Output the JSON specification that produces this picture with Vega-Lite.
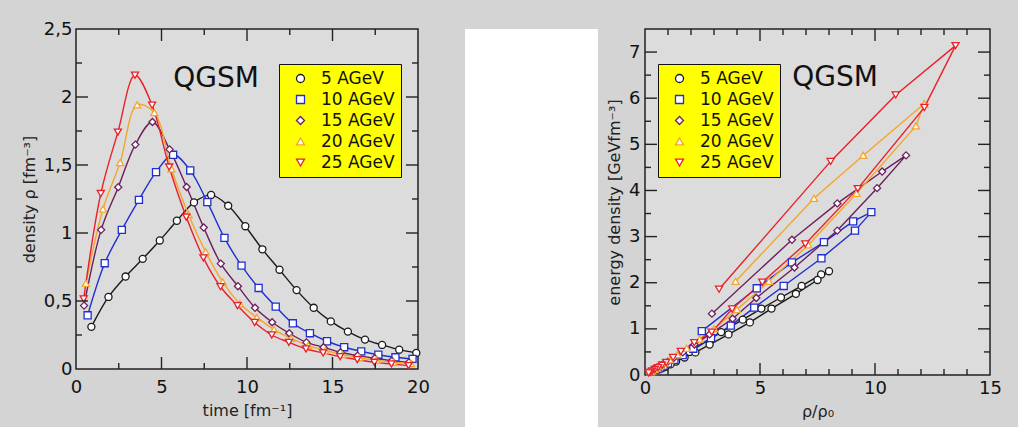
{
  "$schema": "https://vega.github.io/schema/vega-lite/v6.json",
  "background": "#d4d4d4",
  "padding": {"left": 20, "top": 19, "right": 28, "bottom": 0},
  "bounds": "flush",
  "spacing": 47,
  "datasets": {
    "d": [
      {"E":"5 AGeV","k":0,"t":0.9,"rho":0.31,"ratio":1.94,"eps":0.5},
      {"E":"5 AGeV","k":1,"t":1.9,"rho":0.53,"ratio":3.31,"eps":0.93},
      {"E":"5 AGeV","k":2,"t":2.9,"rho":0.68,"ratio":4.25,"eps":1.2},
      {"E":"5 AGeV","k":3,"t":3.9,"rho":0.81,"ratio":5.06,"eps":1.44},
      {"E":"5 AGeV","k":4,"t":4.9,"rho":0.945,"ratio":5.91,"eps":1.68},
      {"E":"5 AGeV","k":5,"t":5.9,"rho":1.09,"ratio":6.81,"eps":1.93},
      {"E":"5 AGeV","k":6,"t":6.9,"rho":1.225,"ratio":7.66,"eps":2.18},
      {"E":"5 AGeV","k":7,"t":7.9,"rho":1.28,"ratio":8.0,"eps":2.25},
      {"E":"5 AGeV","k":8,"t":8.9,"rho":1.2,"ratio":7.5,"eps":2.06},
      {"E":"5 AGeV","k":9,"t":9.9,"rho":1.05,"ratio":6.56,"eps":1.76},
      {"E":"5 AGeV","k":10,"t":10.9,"rho":0.88,"ratio":5.5,"eps":1.44},
      {"E":"5 AGeV","k":11,"t":11.9,"rho":0.73,"ratio":4.56,"eps":1.14},
      {"E":"5 AGeV","k":12,"t":12.9,"rho":0.58,"ratio":3.63,"eps":0.88},
      {"E":"5 AGeV","k":13,"t":13.9,"rho":0.45,"ratio":2.81,"eps":0.66},
      {"E":"5 AGeV","k":14,"t":14.9,"rho":0.35,"ratio":2.19,"eps":0.49},
      {"E":"5 AGeV","k":15,"t":15.9,"rho":0.275,"ratio":1.72,"eps":0.38},
      {"E":"5 AGeV","k":16,"t":16.9,"rho":0.216,"ratio":1.35,"eps":0.29},
      {"E":"5 AGeV","k":17,"t":17.9,"rho":0.177,"ratio":1.11,"eps":0.23},
      {"E":"5 AGeV","k":18,"t":18.9,"rho":0.142,"ratio":0.89,"eps":0.18},
      {"E":"5 AGeV","k":19,"t":19.9,"rho":0.118,"ratio":0.74,"eps":0.145},
      {"E":"10 AGeV","k":0,"t":0.68,"rho":0.395,"ratio":2.47,"eps":0.95},
      {"E":"10 AGeV","k":1,"t":1.68,"rho":0.778,"ratio":4.86,"eps":1.88},
      {"E":"10 AGeV","k":2,"t":2.68,"rho":1.023,"ratio":6.39,"eps":2.44},
      {"E":"10 AGeV","k":3,"t":3.68,"rho":1.244,"ratio":7.78,"eps":2.88},
      {"E":"10 AGeV","k":4,"t":4.68,"rho":1.448,"ratio":9.05,"eps":3.33},
      {"E":"10 AGeV","k":5,"t":5.68,"rho":1.575,"ratio":9.84,"eps":3.53},
      {"E":"10 AGeV","k":6,"t":6.68,"rho":1.46,"ratio":9.13,"eps":3.13},
      {"E":"10 AGeV","k":7,"t":7.68,"rho":1.227,"ratio":7.67,"eps":2.53},
      {"E":"10 AGeV","k":8,"t":8.68,"rho":0.964,"ratio":6.03,"eps":1.93},
      {"E":"10 AGeV","k":9,"t":9.68,"rho":0.76,"ratio":4.75,"eps":1.46},
      {"E":"10 AGeV","k":10,"t":10.68,"rho":0.596,"ratio":3.73,"eps":1.07},
      {"E":"10 AGeV","k":11,"t":11.68,"rho":0.459,"ratio":2.87,"eps":0.8},
      {"E":"10 AGeV","k":12,"t":12.68,"rho":0.336,"ratio":2.1,"eps":0.57},
      {"E":"10 AGeV","k":13,"t":13.68,"rho":0.263,"ratio":1.64,"eps":0.43},
      {"E":"10 AGeV","k":14,"t":14.68,"rho":0.204,"ratio":1.28,"eps":0.33},
      {"E":"10 AGeV","k":15,"t":15.68,"rho":0.16,"ratio":1.0,"eps":0.25},
      {"E":"10 AGeV","k":16,"t":16.68,"rho":0.13,"ratio":0.81,"eps":0.2},
      {"E":"10 AGeV","k":17,"t":17.68,"rho":0.105,"ratio":0.66,"eps":0.16},
      {"E":"10 AGeV","k":18,"t":18.68,"rho":0.086,"ratio":0.54,"eps":0.13},
      {"E":"10 AGeV","k":19,"t":19.68,"rho":0.074,"ratio":0.46,"eps":0.11},
      {"E":"15 AGeV","k":0,"t":0.47,"rho":0.466,"ratio":2.91,"eps":1.33},
      {"E":"15 AGeV","k":1,"t":1.47,"rho":1.023,"ratio":6.39,"eps":2.93},
      {"E":"15 AGeV","k":2,"t":2.47,"rho":1.337,"ratio":8.36,"eps":3.72},
      {"E":"15 AGeV","k":3,"t":3.47,"rho":1.65,"ratio":10.31,"eps":4.41},
      {"E":"15 AGeV","k":4,"t":4.47,"rho":1.816,"ratio":11.35,"eps":4.76},
      {"E":"15 AGeV","k":5,"t":5.47,"rho":1.615,"ratio":10.09,"eps":4.05},
      {"E":"15 AGeV","k":6,"t":6.47,"rho":1.338,"ratio":8.36,"eps":3.13},
      {"E":"15 AGeV","k":7,"t":7.47,"rho":1.04,"ratio":6.5,"eps":2.33},
      {"E":"15 AGeV","k":8,"t":8.47,"rho":0.775,"ratio":4.84,"eps":1.67},
      {"E":"15 AGeV","k":9,"t":9.47,"rho":0.609,"ratio":3.81,"eps":1.22},
      {"E":"15 AGeV","k":10,"t":10.47,"rho":0.45,"ratio":2.81,"eps":0.88},
      {"E":"15 AGeV","k":11,"t":11.47,"rho":0.344,"ratio":2.15,"eps":0.66},
      {"E":"15 AGeV","k":12,"t":12.47,"rho":0.263,"ratio":1.64,"eps":0.49},
      {"E":"15 AGeV","k":13,"t":13.47,"rho":0.196,"ratio":1.23,"eps":0.36},
      {"E":"15 AGeV","k":14,"t":14.47,"rho":0.16,"ratio":1.0,"eps":0.29},
      {"E":"15 AGeV","k":15,"t":15.47,"rho":0.123,"ratio":0.77,"eps":0.22},
      {"E":"15 AGeV","k":16,"t":16.47,"rho":0.098,"ratio":0.61,"eps":0.17},
      {"E":"15 AGeV","k":17,"t":17.47,"rho":0.079,"ratio":0.49,"eps":0.14},
      {"E":"15 AGeV","k":18,"t":18.47,"rho":0.061,"ratio":0.38,"eps":0.11},
      {"E":"15 AGeV","k":19,"t":19.47,"rho":0.049,"ratio":0.31,"eps":0.09},
      {"E":"20 AGeV","k":0,"t":0.58,"rho":0.63,"ratio":3.94,"eps":2.03},
      {"E":"20 AGeV","k":1,"t":1.58,"rho":1.176,"ratio":7.35,"eps":3.83},
      {"E":"20 AGeV","k":2,"t":2.58,"rho":1.518,"ratio":9.49,"eps":4.76},
      {"E":"20 AGeV","k":3,"t":3.58,"rho":1.942,"ratio":12.14,"eps":5.88},
      {"E":"20 AGeV","k":4,"t":4.58,"rho":1.885,"ratio":11.78,"eps":5.4},
      {"E":"20 AGeV","k":5,"t":5.58,"rho":1.472,"ratio":9.2,"eps":3.94},
      {"E":"20 AGeV","k":6,"t":6.58,"rho":1.136,"ratio":7.1,"eps":2.82},
      {"E":"20 AGeV","k":7,"t":7.58,"rho":0.862,"ratio":5.39,"eps":2.03},
      {"E":"20 AGeV","k":8,"t":8.58,"rho":0.64,"ratio":4.0,"eps":1.42},
      {"E":"20 AGeV","k":9,"t":9.58,"rho":0.48,"ratio":3.0,"eps":1.0},
      {"E":"20 AGeV","k":10,"t":10.58,"rho":0.379,"ratio":2.37,"eps":0.78},
      {"E":"20 AGeV","k":11,"t":11.58,"rho":0.29,"ratio":1.81,"eps":0.58},
      {"E":"20 AGeV","k":12,"t":12.58,"rho":0.225,"ratio":1.41,"eps":0.44},
      {"E":"20 AGeV","k":13,"t":13.58,"rho":0.172,"ratio":1.08,"eps":0.33},
      {"E":"20 AGeV","k":14,"t":14.58,"rho":0.137,"ratio":0.86,"eps":0.26},
      {"E":"20 AGeV","k":15,"t":15.58,"rho":0.106,"ratio":0.66,"eps":0.2},
      {"E":"20 AGeV","k":16,"t":16.58,"rho":0.083,"ratio":0.52,"eps":0.15},
      {"E":"20 AGeV","k":17,"t":17.58,"rho":0.065,"ratio":0.41,"eps":0.12},
      {"E":"20 AGeV","k":18,"t":18.58,"rho":0.05,"ratio":0.31,"eps":0.09},
      {"E":"20 AGeV","k":19,"t":19.58,"rho":0.04,"ratio":0.25,"eps":0.07},
      {"E":"25 AGeV","k":0,"t":0.45,"rho":0.515,"ratio":3.22,"eps":1.86},
      {"E":"25 AGeV","k":1,"t":1.45,"rho":1.29,"ratio":8.07,"eps":4.63},
      {"E":"25 AGeV","k":2,"t":2.45,"rho":1.742,"ratio":10.9,"eps":6.07},
      {"E":"25 AGeV","k":3,"t":3.45,"rho":2.16,"ratio":13.5,"eps":7.14},
      {"E":"25 AGeV","k":4,"t":4.45,"rho":1.94,"ratio":12.15,"eps":5.8},
      {"E":"25 AGeV","k":5,"t":5.45,"rho":1.485,"ratio":9.25,"eps":4.04},
      {"E":"25 AGeV","k":6,"t":6.45,"rho":1.117,"ratio":6.97,"eps":2.84},
      {"E":"25 AGeV","k":7,"t":7.45,"rho":0.817,"ratio":5.1,"eps":2.01},
      {"E":"25 AGeV","k":8,"t":8.45,"rho":0.605,"ratio":3.79,"eps":1.43},
      {"E":"25 AGeV","k":9,"t":9.45,"rho":0.465,"ratio":2.9,"eps":0.93},
      {"E":"25 AGeV","k":10,"t":10.45,"rho":0.342,"ratio":2.14,"eps":0.7},
      {"E":"25 AGeV","k":11,"t":11.45,"rho":0.25,"ratio":1.56,"eps":0.51},
      {"E":"25 AGeV","k":12,"t":12.45,"rho":0.196,"ratio":1.22,"eps":0.38},
      {"E":"25 AGeV","k":13,"t":13.45,"rho":0.147,"ratio":0.92,"eps":0.27},
      {"E":"25 AGeV","k":14,"t":14.45,"rho":0.118,"ratio":0.74,"eps":0.21},
      {"E":"25 AGeV","k":15,"t":15.45,"rho":0.091,"ratio":0.57,"eps":0.16},
      {"E":"25 AGeV","k":16,"t":16.45,"rho":0.069,"ratio":0.43,"eps":0.12},
      {"E":"25 AGeV","k":17,"t":17.45,"rho":0.049,"ratio":0.31,"eps":0.085},
      {"E":"25 AGeV","k":18,"t":18.45,"rho":0.037,"ratio":0.23,"eps":0.063},
      {"E":"25 AGeV","k":19,"t":19.45,"rho":0.025,"ratio":0.16,"eps":0.045}
    ],
    "xtL": [{"v": 2.5}, {"v": 5}, {"v": 7.5}, {"v": 10}, {"v": 12.5}, {"v": 15}, {"v": 17.5}],
    "ytL": [{"v": 0.25}, {"v": 0.5}, {"v": 0.75}, {"v": 1}, {"v": 1.25}, {"v": 1.5}, {"v": 1.75}, {"v": 2}, {"v": 2.25}],
    "xtR": [{"v": 1}, {"v": 2}, {"v": 3}, {"v": 4}, {"v": 5}, {"v": 6}, {"v": 7}, {"v": 8}, {"v": 9}, {"v": 10}, {"v": 11}, {"v": 12}, {"v": 13}, {"v": 14}],
    "ytR": [{"v": 0.5}, {"v": 1}, {"v": 1.5}, {"v": 2}, {"v": 2.5}, {"v": 3}, {"v": 3.5}, {"v": 4}, {"v": 4.5}, {"v": 5}, {"v": 5.5}, {"v": 6}, {"v": 6.5}, {"v": 7}]
  },
  "hconcat": [
    {
      "width": 342,
      "height": 340,
      "layer": [
        {
          "data": {"name": "d"},
          "mark": {"type": "line", "strokeWidth": 1.4, "interpolate": "catmull-rom"},
          "encoding": {
            "x": {"field": "t", "type": "quantitative", "scale": {"domain": [0, 20], "nice": false},
                  "axis": {"orient": "bottom", "values": [0, 5, 10, 15, 20], "ticks": false, "labelPadding": 9, "title": "time [fm⁻¹]", "titlePadding": 6}},
            "y": {"field": "rho", "type": "quantitative", "scale": {"domain": [0, 2.5], "nice": false},
                  "axis": {"orient": "left", "values": [0, 0.5, 1, 1.5, 2, 2.5], "ticks": false, "labelPadding": 4, "labelExpr": "replace(format(datum.value, '.2~f'), '.', ',')", "title": "density ρ [fm⁻³]", "titlePadding": 6}},
            "stroke": {"field": "E", "type": "nominal",
                       "scale": {"domain": ["5 AGeV", "10 AGeV", "15 AGeV", "20 AGeV", "25 AGeV"], "range": ["#1a1a1a", "#1f2fd0", "#6b1f5e", "#f5a52a", "#e8202a"]},
                       "legend": {"title": null, "orient": "none", "legendX": 203, "legendY": 35, "fillColor": "#ffff00", "strokeColor": "#111111", "padding": 6, "labelFont": "DejaVu Sans", "labelFontSize": 17, "labelColor": "#111111", "symbolSize": 64, "symbolOffset": 7, "labelOffset": 12, "rowPadding": 3, "symbolFillColor": "white", "symbolStrokeWidth": 1.3}},
            "order": {"field": "k", "type": "quantitative"}
          }
        },
        {
          "data": {"name": "d"},
          "mark": {"type": "point", "filled": true, "fill": "white", "size": 50, "strokeWidth": 1.3, "opacity": 1},
          "encoding": {
            "x": {"field": "t", "type": "quantitative", "axis": null},
            "y": {"field": "rho", "type": "quantitative", "axis": null},
            "stroke": {"field": "E", "type": "nominal",
                       "legend": {"title": null, "orient": "none", "legendX": 203, "legendY": 35, "fillColor": "#ffff00", "strokeColor": "#111111", "padding": 6, "labelFont": "DejaVu Sans", "labelFontSize": 17, "labelColor": "#111111", "symbolSize": 64, "symbolOffset": 7, "labelOffset": 12, "rowPadding": 3, "symbolFillColor": "white", "symbolStrokeWidth": 1.3}},
            "shape": {"field": "E", "type": "nominal",
                      "scale": {"domain": ["5 AGeV", "10 AGeV", "15 AGeV", "20 AGeV", "25 AGeV"], "range": ["circle", "square", "diamond", "triangle-up", "triangle-down"]},
                      "legend": {"title": null, "orient": "none", "legendX": 203, "legendY": 35, "fillColor": "#ffff00", "strokeColor": "#111111", "padding": 6, "labelFont": "DejaVu Sans", "labelFontSize": 17, "labelColor": "#111111", "symbolSize": 64, "symbolOffset": 7, "labelOffset": 12, "rowPadding": 3, "symbolFillColor": "white", "symbolStrokeWidth": 1.3}}
          }
        },
        {
          "data": {"name": "xtL"},
          "mark": {"type": "tick", "orient": "vertical", "clip": true, "color": "#222222", "thickness": 1.4, "opacity": 1},
          "encoding": {
            "x": {"field": "v", "type": "quantitative", "axis": null},
            "y": {"datum": 0, "type": "quantitative", "axis": null},
            "size": {"condition": {"test": "datum.v % 5 === 0", "value": 24}, "value": 12}
          }
        },
        {
          "data": {"name": "xtL"},
          "mark": {"type": "tick", "orient": "vertical", "clip": true, "color": "#222222", "thickness": 1.4, "opacity": 1},
          "encoding": {
            "x": {"field": "v", "type": "quantitative", "axis": null},
            "y": {"datum": 2.5, "type": "quantitative", "axis": null},
            "size": {"condition": {"test": "datum.v % 5 === 0", "value": 24}, "value": 12}
          }
        },
        {
          "data": {"name": "ytL"},
          "mark": {"type": "tick", "orient": "horizontal", "clip": true, "color": "#222222", "thickness": 1.4, "opacity": 1},
          "encoding": {
            "y": {"field": "v", "type": "quantitative", "axis": null},
            "x": {"datum": 0, "type": "quantitative", "axis": null},
            "size": {"condition": {"test": "datum.v % 0.5 === 0", "value": 24}, "value": 12}
          }
        },
        {
          "data": {"name": "ytL"},
          "mark": {"type": "tick", "orient": "horizontal", "clip": true, "color": "#222222", "thickness": 1.4, "opacity": 1},
          "encoding": {
            "y": {"field": "v", "type": "quantitative", "axis": null},
            "x": {"datum": 20, "type": "quantitative", "axis": null},
            "size": {"condition": {"test": "datum.v % 0.5 === 0", "value": 24}, "value": 12}
          }
        },
        {
          "data": {"values": [{"label": "QGSM"}]},
          "mark": {"type": "text", "font": "DejaVu Sans", "fontSize": 28, "color": "#111111", "align": "center", "baseline": "middle"},
          "encoding": {
            "x": {"datum": 8.19, "type": "quantitative", "axis": null},
            "y": {"datum": 2.13, "type": "quantitative", "axis": null},
            "text": {"field": "label"}
          }
        }
      ],
      "resolve": {"axis": {"x": "independent", "y": "independent"}}
    },
    {
      "width": 133,
      "height": 398,
      "view": {"fill": "white", "stroke": null},
      "data": {"values": [{"a": 1}]},
      "mark": {"type": "point", "opacity": 0},
      "encoding": {}
    },
    {
      "width": 345,
      "height": 346,
      "layer": [
        {
          "data": {"name": "d"},
          "mark": {"type": "line", "strokeWidth": 1.4},
          "encoding": {
            "x": {"field": "ratio", "type": "quantitative", "scale": {"domain": [0, 15], "nice": false},
                  "axis": {"orient": "bottom", "values": [0, 5, 10, 15], "ticks": false, "labelPadding": 4, "title": "ρ/ρ₀", "titlePadding": 6}},
            "y": {"field": "eps", "type": "quantitative", "scale": {"domain": [0, 7.5], "nice": false},
                  "axis": {"orient": "left", "values": [0, 1, 2, 3, 4, 5, 6, 7], "ticks": false, "labelPadding": 5, "title": "energy density [GeVfm⁻³]", "titlePadding": 6}},
            "stroke": {"field": "E", "type": "nominal",
                       "scale": {"domain": ["5 AGeV", "10 AGeV", "15 AGeV", "20 AGeV", "25 AGeV"], "range": ["#1a1a1a", "#1f2fd0", "#6b1f5e", "#f5a52a", "#e8202a"]},
                       "legend": {"title": null, "orient": "none", "legendX": 13, "legendY": 35, "fillColor": "#ffff00", "strokeColor": "#111111", "padding": 6, "labelFont": "DejaVu Sans", "labelFontSize": 17, "labelColor": "#111111", "symbolSize": 64, "symbolOffset": 7, "labelOffset": 12, "rowPadding": 3, "symbolFillColor": "white", "symbolStrokeWidth": 1.3}},
            "order": {"field": "k", "type": "quantitative"}
          }
        },
        {
          "data": {"name": "d"},
          "mark": {"type": "point", "filled": true, "fill": "white", "size": 50, "strokeWidth": 1.3, "opacity": 1},
          "encoding": {
            "x": {"field": "ratio", "type": "quantitative", "axis": null},
            "y": {"field": "eps", "type": "quantitative", "axis": null},
            "stroke": {"field": "E", "type": "nominal",
                       "legend": {"title": null, "orient": "none", "legendX": 13, "legendY": 35, "fillColor": "#ffff00", "strokeColor": "#111111", "padding": 6, "labelFont": "DejaVu Sans", "labelFontSize": 17, "labelColor": "#111111", "symbolSize": 64, "symbolOffset": 7, "labelOffset": 12, "rowPadding": 3, "symbolFillColor": "white", "symbolStrokeWidth": 1.3}},
            "shape": {"field": "E", "type": "nominal",
                      "scale": {"domain": ["5 AGeV", "10 AGeV", "15 AGeV", "20 AGeV", "25 AGeV"], "range": ["circle", "square", "diamond", "triangle-up", "triangle-down"]},
                      "legend": {"title": null, "orient": "none", "legendX": 13, "legendY": 35, "fillColor": "#ffff00", "strokeColor": "#111111", "padding": 6, "labelFont": "DejaVu Sans", "labelFontSize": 17, "labelColor": "#111111", "symbolSize": 64, "symbolOffset": 7, "labelOffset": 12, "rowPadding": 3, "symbolFillColor": "white", "symbolStrokeWidth": 1.3}}
          }
        },
        {
          "data": {"name": "xtR"},
          "mark": {"type": "tick", "orient": "vertical", "clip": true, "color": "#222222", "thickness": 1.4, "opacity": 1},
          "encoding": {
            "x": {"field": "v", "type": "quantitative", "axis": null},
            "y": {"datum": 0, "type": "quantitative", "axis": null},
            "size": {"condition": {"test": "datum.v % 5 === 0", "value": 24}, "value": 12}
          }
        },
        {
          "data": {"name": "xtR"},
          "mark": {"type": "tick", "orient": "vertical", "clip": true, "color": "#222222", "thickness": 1.4, "opacity": 1},
          "encoding": {
            "x": {"field": "v", "type": "quantitative", "axis": null},
            "y": {"datum": 7.5, "type": "quantitative", "axis": null},
            "size": {"condition": {"test": "datum.v % 5 === 0", "value": 24}, "value": 12}
          }
        },
        {
          "data": {"name": "ytR"},
          "mark": {"type": "tick", "orient": "horizontal", "clip": true, "color": "#222222", "thickness": 1.4, "opacity": 1},
          "encoding": {
            "y": {"field": "v", "type": "quantitative", "axis": null},
            "x": {"datum": 0, "type": "quantitative", "axis": null},
            "size": {"condition": {"test": "datum.v % 1 === 0", "value": 24}, "value": 12}
          }
        },
        {
          "data": {"name": "ytR"},
          "mark": {"type": "tick", "orient": "horizontal", "clip": true, "color": "#222222", "thickness": 1.4, "opacity": 1},
          "encoding": {
            "y": {"field": "v", "type": "quantitative", "axis": null},
            "x": {"datum": 15, "type": "quantitative", "axis": null},
            "size": {"condition": {"test": "datum.v % 1 === 0", "value": 24}, "value": 12}
          }
        },
        {
          "data": {"values": [{"label": "QGSM"}]},
          "mark": {"type": "text", "font": "DejaVu Sans", "fontSize": 28, "color": "#111111", "align": "center", "baseline": "middle"},
          "encoding": {
            "x": {"datum": 8.26, "type": "quantitative", "axis": null},
            "y": {"datum": 6.43, "type": "quantitative", "axis": null},
            "text": {"field": "label"}
          }
        }
      ],
      "resolve": {"axis": {"x": "independent", "y": "independent"}}
    }
  ],
  "resolve": {
    "scale": {"stroke": "independent", "shape": "independent"},
    "legend": {"stroke": "independent", "shape": "independent"}
  },
  "config": {
    "view": {"fill": "#dcdcdc", "stroke": "#222222", "strokeWidth": 1.5},
    "axis": {
      "grid": false,
      "domain": false,
      "labelFont": "DejaVu Sans",
      "labelFontSize": 18,
      "labelColor": "#111111",
      "labelFlush": false,
      "labelOverlap": false,
      "titleFont": "DejaVu Sans",
      "titleFontSize": 16,
      "titleFontWeight": "normal",
      "titleColor": "#222222"
    }
  }
}
